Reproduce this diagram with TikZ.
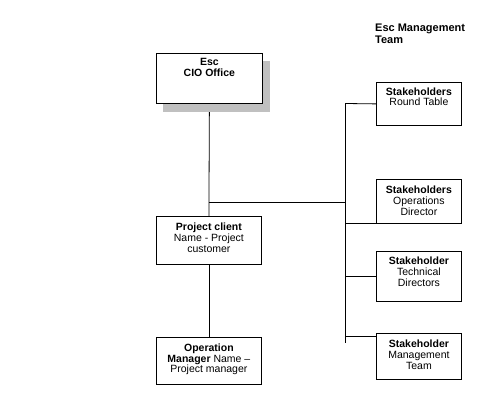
\documentclass[tikz,border=0pt]{standalone}
\usepackage{fontspec}
\setmainfont{Liberation Sans}
\usetikzlibrary{backgrounds}
\definecolor{shadowgray}{HTML}{C0C0C0}
\newcommand{\bxt}[4]{\parbox[t][#2pt][t]{#3pt}{\centering\fontsize{10.5}{10.7}\selectfont\rule{0pt}{#1pt}#4}}
\begin{document}
\begin{tikzpicture}[x=1pt,y=-1pt,
  orgbox/.style={draw, line width=0.8pt, fill=white, inner sep=0pt, anchor=north west},
  wire/.style={line width=0.8pt}]
\useasboundingbox (0,0) rectangle (502,414);

\node[anchor=north west, inner sep=0pt, align=left, font=\fontsize{11}{12.3}\selectfont\bfseries] (title) at (375,23.5) {Esc Management\\Team};

\node[orgbox, minimum width=106pt, minimum height=50pt] (cio) at (156,53) {\bxt{12}{50}{104}{\textbf{Esc}\\\textbf{CIO Office}}};
\node[orgbox, minimum width=105pt, minimum height=48pt] (pc) at (156,216) {\bxt{14.5}{48}{103}{\textbf{Project client}\\Name - Project\\customer}};
\node[orgbox, minimum width=105pt, minimum height=47pt] (om) at (156,337) {\bxt{14}{47}{103}{\textbf{Operation}\\\textbf{Manager} Name –\\Project manager}};

\node[orgbox, minimum width=85pt, minimum height=43pt] (rt) at (376,82) {\bxt{12.8}{43}{83}{\textbf{Stakeholders}\\Round Table}};
\node[orgbox, minimum width=85pt, minimum height=44pt] (od) at (376,179) {\bxt{14.5}{44}{83}{\textbf{Stakeholders}\\Operations\\Director}};
\node[orgbox, minimum width=85pt, minimum height=50pt] (td) at (376,251) {\bxt{13.5}{50}{83}{\textbf{Stakeholder}\\Technical\\Directors}};
\node[orgbox, minimum width=85pt, minimum height=46pt] (mt) at (376,333) {\bxt{14.5}{46}{83}{\textbf{Stakeholder}\\Management\\Team}};

\begin{scope}[on background layer]
  \draw[wire] (cio.south) -- (pc.north);
  \fill[shadowgray] ([shift={(7,8)}]cio.south west) rectangle ([shift={(7,8)}]cio.north east);
\end{scope}

\coordinate (join) at (209,202.5);
\coordinate (bustop) at (345.5,103.5);
\coordinate (busbot) at (345.5,343);

\draw[wire] (pc.south) -- (om.north);
\draw[wire] (join) -- (join -| bustop);
\draw[wire] (bustop) -- (busbot);
\draw[wire] (bustop) -- (rt.west);
\draw[wire] (od.south west) -- (od.south west -| bustop);
\draw[wire] (td.west) -- (td.west -| bustop);
\draw[wire] ([yshift=-3pt]mt.north west) -- ([yshift=-3pt]mt.north west -| bustop);
\end{tikzpicture}
\end{document}
